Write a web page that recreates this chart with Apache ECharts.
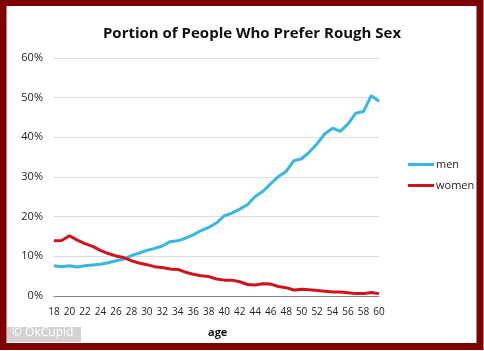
<!DOCTYPE html>
<html><head><meta charset="utf-8">
<script src="https://cdn.jsdelivr.net/npm/echarts@6/dist/echarts.min.js"></script>
<style>html,body{margin:0;padding:0;background:#fff}#c{width:484px;height:351px}</style>
</head><body><div id="c"></div>
<script>
const ages = [18,19,20,21,22,23,24,25,26,27,28,29,30,31,32,33,34,35,36,37,38,39,40,41,42,43,44,45,46,47,48,49,50,51,52,53,54,55,56,57,58,59,60];
const men = [7.6,7.4,7.6,7.3,7.6,7.8,8.0,8.4,8.9,9.3,10.2,10.8,11.5,12.0,12.6,13.7,13.9,14.6,15.4,16.5,17.3,18.4,20.2,20.9,21.9,23.0,25.1,26.4,28.3,30.1,31.4,34.1,34.6,36.3,38.4,40.9,42.3,41.5,43.4,46.1,46.5,50.5,49.1];
const women = [13.9,14.0,15.2,14.1,13.2,12.5,11.5,10.7,10.1,9.7,8.9,8.3,7.9,7.4,7.2,6.8,6.7,6.0,5.5,5.1,4.9,4.3,4.0,4.0,3.6,2.9,2.8,3.1,3.0,2.4,2.1,1.5,1.7,1.6,1.4,1.2,1.0,1.0,0.8,0.6,0.6,0.9,0.6];
const yTicks = [0,10,20,30,40,50,60];
const titleText = 'Portion of People Who Prefer Rough Sex';
const xName = 'age';
const credit = '\u00A9 OkCupid';

const chart = echarts.init(document.getElementById('c'));
const font = '"Open Sans", "Liberation Sans", sans-serif';
chart.setOption({
  animation: false,
  backgroundColor: '#fff',
  title: {
    text: titleText, left: 247, top: 21, textAlign: 'center',
    textStyle: {fontFamily: font, fontWeight: 'bold', fontSize: 15, color: '#111'}
  },
  grid: {left: 54, right: 105, top: 58, bottom: 55, containLabel: false},
  legend: {
    orient: 'vertical', left: 403, top: 154, itemWidth: 26, itemHeight: 3, itemGap: 10,
    icon: 'rect',
    textStyle: {fontFamily: font, fontSize: 11, color: '#222', padding: [0,0,0,-3]},
    data: ['men','women']
  },
  xAxis: {
    type: 'category', data: ages, boundaryGap: false,
    axisLine: {lineStyle: {color: '#868686', width: 1}},
    axisTick: {show: false},
    axisLabel: {interval: 1, fontFamily: font, fontSize: 10, color: '#222', margin: 11},
    splitLine: {show: false}
  },
  yAxis: {
    type: 'value', min: yTicks[0], max: yTicks[yTicks.length-1], interval: 10,
    axisLine: {show: false}, axisTick: {show: false},
    axisLabel: {formatter: '{value}%', fontFamily: font, fontSize: 11, color: '#222', margin: 11},
    splitLine: {lineStyle: {color: '#dcdcdc', width: 1}}
  },
  series: [
    {name: 'men', type: 'line', data: men, symbol: 'none', lineStyle: {color: '#38b7e2', width: 3}, itemStyle: {color: '#38b7e2'}},
    {name: 'women', type: 'line', data: women, symbol: 'none', lineStyle: {color: '#d3131b', width: 3}, itemStyle: {color: '#d3131b'}}
  ],
  graphic: [
    {type: 'rect', silent: true, z: 100, shape: {x: 3, y: 2.5, width: 477, height: 344}, style: {fill: 'none', stroke: '#7e0000', lineWidth: 7}},
    {type: 'text', left: 208, top: 327, z: 100, style: {text: xName, font: 'bold 11px ' + font, fill: '#111'}},
    {type: 'rect', z: 100, shape: {x: 7, y: 327, width: 74, height: 15}, style: {fill: '#d2d2d2'}},
    {type: 'text', z: 101, left: 12, top: 327, style: {text: credit, font: '12px ' + font, fill: '#fff'}}
  ]
});
</script></body></html>
